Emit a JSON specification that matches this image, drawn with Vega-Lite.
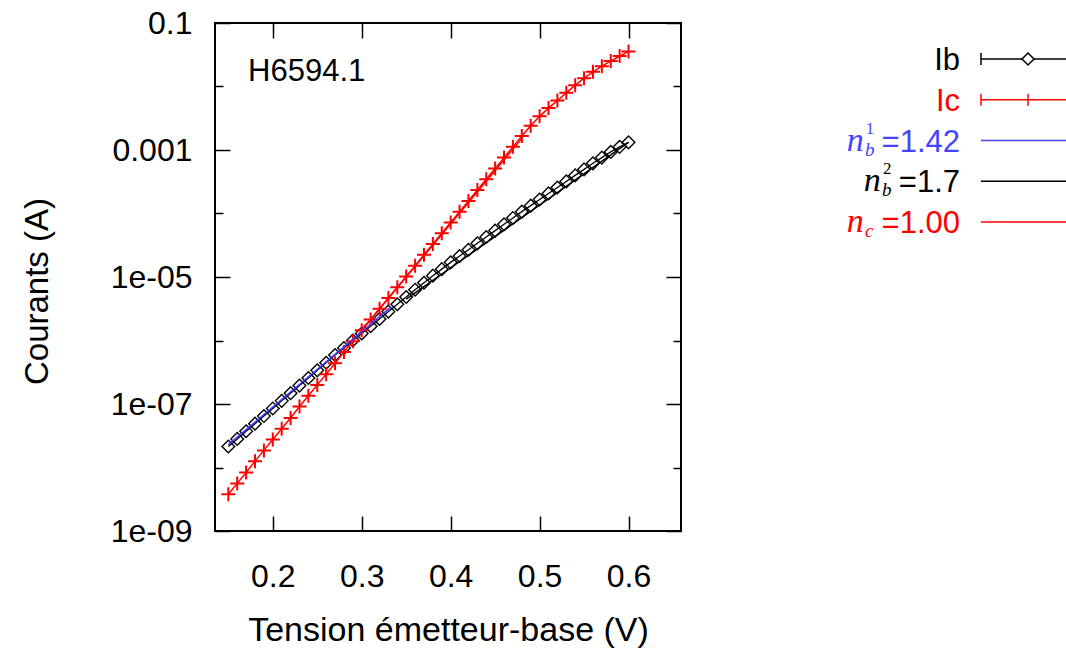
{
  "$schema": "https://vega.github.io/schema/vega-lite/v6.json",
  "padding": {"left": 19, "top": 6, "right": 0, "bottom": 0},
  "spacing": 0,
  "config": {
    "font": "Liberation Sans",
    "view": {"stroke": "black", "strokeWidth": 2},
    "axis": {"grid": false, "domain": false, "labelFontSize": 32, "titleFontSize": 33, "labelColor": "black", "titleColor": "black", "tickColor": "black", "tickWidth": 1.5, "titleFontWeight": "normal", "labelFont": "Liberation Sans", "titleFont": "Liberation Sans"}
  },
  "datasets": {
    "meas": [
      {"series": "Ib", "V": 0.15, "I": 2.14e-8}, {"series": "Ib", "V": 0.16, "I": 2.82e-8}, {"series": "Ib", "V": 0.17, "I": 3.72e-8}, {"series": "Ib", "V": 0.18, "I": 4.90e-8}, {"series": "Ib", "V": 0.19, "I": 6.46e-8},
      {"series": "Ib", "V": 0.20, "I": 8.51e-8}, {"series": "Ib", "V": 0.21, "I": 1.12e-7}, {"series": "Ib", "V": 0.22, "I": 1.48e-7}, {"series": "Ib", "V": 0.23, "I": 1.95e-7}, {"series": "Ib", "V": 0.24, "I": 2.57e-7},
      {"series": "Ib", "V": 0.25, "I": 3.39e-7}, {"series": "Ib", "V": 0.26, "I": 4.47e-7}, {"series": "Ib", "V": 0.27, "I": 5.89e-7}, {"series": "Ib", "V": 0.28, "I": 7.59e-7}, {"series": "Ib", "V": 0.29, "I": 1.00e-6},
      {"series": "Ib", "V": 0.30, "I": 1.29e-6}, {"series": "Ib", "V": 0.31, "I": 1.68e-6}, {"series": "Ib", "V": 0.32, "I": 2.19e-6}, {"series": "Ib", "V": 0.33, "I": 2.85e-6}, {"series": "Ib", "V": 0.34, "I": 3.72e-6},
      {"series": "Ib", "V": 0.35, "I": 4.84e-6}, {"series": "Ib", "V": 0.36, "I": 6.31e-6}, {"series": "Ib", "V": 0.37, "I": 8.13e-6}, {"series": "Ib", "V": 0.38, "I": 1.05e-5}, {"series": "Ib", "V": 0.39, "I": 1.33e-5},
      {"series": "Ib", "V": 0.40, "I": 1.70e-5}, {"series": "Ib", "V": 0.41, "I": 2.14e-5}, {"series": "Ib", "V": 0.42, "I": 2.69e-5}, {"series": "Ib", "V": 0.43, "I": 3.39e-5}, {"series": "Ib", "V": 0.44, "I": 4.27e-5},
      {"series": "Ib", "V": 0.45, "I": 5.37e-5}, {"series": "Ib", "V": 0.46, "I": 6.76e-5}, {"series": "Ib", "V": 0.47, "I": 8.51e-5}, {"series": "Ib", "V": 0.48, "I": 1.07e-4}, {"series": "Ib", "V": 0.49, "I": 1.33e-4},
      {"series": "Ib", "V": 0.50, "I": 1.66e-4}, {"series": "Ib", "V": 0.51, "I": 2.07e-4}, {"series": "Ib", "V": 0.52, "I": 2.57e-4}, {"series": "Ib", "V": 0.53, "I": 3.20e-4}, {"series": "Ib", "V": 0.54, "I": 3.98e-4},
      {"series": "Ib", "V": 0.55, "I": 4.95e-4}, {"series": "Ib", "V": 0.56, "I": 6.17e-4}, {"series": "Ib", "V": 0.57, "I": 7.59e-4}, {"series": "Ib", "V": 0.58, "I": 9.33e-4}, {"series": "Ib", "V": 0.59, "I": 1.12e-3},
      {"series": "Ib", "V": 0.60, "I": 1.32e-3},
      {"series": "Ic", "V": 0.15, "I": 3.80e-9}, {"series": "Ic", "V": 0.16, "I": 5.62e-9}, {"series": "Ic", "V": 0.17, "I": 8.32e-9}, {"series": "Ic", "V": 0.18, "I": 1.26e-8}, {"series": "Ic", "V": 0.19, "I": 1.86e-8},
      {"series": "Ic", "V": 0.20, "I": 2.75e-8}, {"series": "Ic", "V": 0.21, "I": 4.07e-8}, {"series": "Ic", "V": 0.22, "I": 6.03e-8}, {"series": "Ic", "V": 0.23, "I": 9.12e-8}, {"series": "Ic", "V": 0.24, "I": 1.35e-7},
      {"series": "Ic", "V": 0.25, "I": 2.00e-7}, {"series": "Ic", "V": 0.26, "I": 2.95e-7}, {"series": "Ic", "V": 0.27, "I": 4.37e-7}, {"series": "Ic", "V": 0.28, "I": 6.61e-7}, {"series": "Ic", "V": 0.29, "I": 9.77e-7},
      {"series": "Ic", "V": 0.30, "I": 1.45e-6}, {"series": "Ic", "V": 0.31, "I": 2.14e-6}, {"series": "Ic", "V": 0.32, "I": 3.16e-6}, {"series": "Ic", "V": 0.33, "I": 4.68e-6}, {"series": "Ic", "V": 0.34, "I": 6.92e-6},
      {"series": "Ic", "V": 0.35, "I": 1.02e-5}, {"series": "Ic", "V": 0.36, "I": 1.51e-5}, {"series": "Ic", "V": 0.37, "I": 2.24e-5}, {"series": "Ic", "V": 0.38, "I": 3.31e-5}, {"series": "Ic", "V": 0.39, "I": 4.90e-5},
      {"series": "Ic", "V": 0.40, "I": 7.24e-5}, {"series": "Ic", "V": 0.41, "I": 1.07e-4}, {"series": "Ic", "V": 0.42, "I": 1.58e-4}, {"series": "Ic", "V": 0.43, "I": 2.34e-4}, {"series": "Ic", "V": 0.44, "I": 3.47e-4},
      {"series": "Ic", "V": 0.45, "I": 5.13e-4}, {"series": "Ic", "V": 0.46, "I": 7.59e-4}, {"series": "Ic", "V": 0.47, "I": 1.12e-3}, {"series": "Ic", "V": 0.48, "I": 1.66e-3}, {"series": "Ic", "V": 0.49, "I": 2.40e-3},
      {"series": "Ic", "V": 0.50, "I": 3.39e-3}, {"series": "Ic", "V": 0.51, "I": 4.57e-3}, {"series": "Ic", "V": 0.52, "I": 6.03e-3}, {"series": "Ic", "V": 0.53, "I": 7.94e-3}, {"series": "Ic", "V": 0.54, "I": 1.05e-2},
      {"series": "Ic", "V": 0.55, "I": 1.35e-2}, {"series": "Ic", "V": 0.56, "I": 1.70e-2}, {"series": "Ic", "V": 0.57, "I": 2.09e-2}, {"series": "Ic", "V": 0.58, "I": 2.51e-2}, {"series": "Ic", "V": 0.59, "I": 3.02e-2},
      {"series": "Ic", "V": 0.60, "I": 3.55e-2}
    ],
    "fits": [
      {"fit": "nb1", "V": 0.15, "I": 2.29e-8}, {"fit": "nb1", "V": 0.333, "I": 3.39e-6},
      {"fit": "nb2", "V": 0.35, "I": 4.47e-6}, {"fit": "nb2", "V": 0.60, "I": 1.32e-3},
      {"fit": "nc", "V": 0.30, "I": 1.45e-6}, {"fit": "nc", "V": 0.48, "I": 1.51e-3}
    ],
    "note": [{"V": 0.1722, "I": 0.0122, "label": "H6594.1"}],
    "legend": [
      {"key": "Ib", "text": "Ib"},
      {"key": "Ic", "text": "Ic"},
      {"key": "nb1", "text": "=1.42", "sym": "n", "sub": "b", "sup": "1"},
      {"key": "nb2", "text": "=1.7", "sym": "n", "sub": "b", "sup": "2"},
      {"key": "nc", "text": "=1.00", "sym": "n", "sub": "c"}
    ]
  },
  "resolve": {"scale": {"x": "independent", "y": "independent", "color": "independent"}},
  "hconcat": [
    {
      "width": 466,
      "height": 508,
      "resolve": {"axis": {"x": "independent", "y": "independent"}},
      "encoding": {
        "x": {"field": "V", "type": "quantitative", "scale": {"domain": [0.135, 0.659], "nice": false, "zero": false}, "axis": null},
        "y": {"field": "I", "type": "quantitative", "scale": {"type": "log", "domain": [1e-9, 0.1], "nice": false}, "axis": null}
      },
      "layer": [
        {
          "data": {"name": "meas"},
          "transform": [{"filter": "datum.series == 'Ib'"}],
          "mark": {"type": "line", "color": "black", "strokeWidth": 1.3},
          "encoding": {
            "x": {"field": "V", "type": "quantitative", "scale": {"domain": [0.135, 0.659], "nice": false, "zero": false},
              "axis": {"orient": "bottom", "values": [0.2, 0.3, 0.4, 0.5, 0.6], "format": ".1f", "tickSize": -15, "labelPadding": 70, "labelBaseline": "alphabetic", "labelFlush": false, "labelOverlap": false, "title": "Tension émetteur-base (V)", "titleFontSize": 34, "titleY": 109, "titleBaseline": "alphabetic"}},
            "y": {"field": "I", "type": "quantitative", "scale": {"type": "log", "domain": [1e-9, 0.1], "nice": false},
              "axis": {"orient": "left", "values": [0.1, 0.01, 0.001, 0.0001, 0.00001, 0.000001, 1e-7, 1e-8, 1e-9],
                "labelExpr": "round(log(datum.value)/LN10) == -1 ? '0.1' : round(log(datum.value)/LN10) == -3 ? '0.001' : round(log(datum.value)/LN10) == -5 ? '1e-05' : round(log(datum.value)/LN10) == -7 ? '1e-07' : round(log(datum.value)/LN10) == -9 ? '1e-09' : ''",
                "tickSize": {"condition": {"test": "round(log(datum.value)/LN10) % 2 != 0", "value": -15}, "value": -8},
                "labelPadding": 38, "labelFlush": false, "labelOverlap": false, "labelBaseline": "middle",
                "title": "Courants (A)", "titleX": -178, "titleY": 268, "titleBaseline": "middle"}}
          }
        },
        {
          "data": {"name": "meas"},
          "transform": [{"filter": "datum.series == 'Ib'"}],
          "mark": {"type": "point", "shape": "M0,-1L1,0L0,1L-1,0Z", "size": 160, "filled": false, "color": "black", "strokeWidth": 1.4, "opacity": 1},
          "encoding": {
            "x": {"field": "V", "type": "quantitative", "scale": {"domain": [0.135, 0.659], "nice": false, "zero": false},
              "axis": {"orient": "top", "values": [0.2, 0.3, 0.4, 0.5, 0.6], "labels": false, "tickSize": -15, "title": null}},
            "y": {"field": "I", "type": "quantitative", "scale": {"type": "log", "domain": [1e-9, 0.1], "nice": false},
              "axis": {"orient": "right", "values": [0.1, 0.01, 0.001, 0.0001, 0.00001, 0.000001, 1e-7, 1e-8, 1e-9], "labels": false, "title": null,
                "tickSize": {"condition": {"test": "round(log(datum.value)/LN10) % 2 != 0", "value": -15}, "value": -8}}}
          }
        },
        {
          "data": {"name": "meas"},
          "transform": [{"filter": "datum.series == 'Ic'"}],
          "mark": {"type": "line", "color": "#ff0000", "strokeWidth": 1.5}
        },
        {
          "data": {"name": "meas"},
          "transform": [{"filter": "datum.series == 'Ic'"}],
          "mark": {"type": "point", "shape": "M-1,0H1M0,-1V1", "size": 196, "filled": false, "color": "#ff0000", "strokeWidth": 2, "opacity": 1}
        },
        {
          "data": {"name": "fits"},
          "mark": {"type": "line", "strokeWidth": 1.5},
          "encoding": {
            "color": {"field": "fit", "type": "nominal", "scale": {"domain": ["nb1", "nb2", "nc"], "range": ["#3a3aff", "black", "#ff0000"]}, "legend": null}
          }
        },
        {
          "data": {"name": "note"},
          "mark": {"type": "text", "align": "left", "baseline": "alphabetic", "fontSize": 31, "font": "Liberation Sans", "color": "black"},
          "encoding": {"text": {"field": "label"}}
        }
      ]
    },
    {
      "width": 387,
      "height": 235,
      "view": {"stroke": null},
      "data": {"name": "legend"},
      "encoding": {
        "y": {"field": "key", "type": "nominal", "scale": {"type": "point", "domain": ["Ib", "Ic", "nb1", "nb2", "nc"], "padding": 0.883}, "axis": null},
        "color": {"field": "key", "type": "nominal", "scale": {"domain": ["Ib", "Ic", "nb1", "nb2", "nc"], "range": ["black", "#ff0000", "#4444ff", "black", "#ff0000"]}, "legend": null}
      },
      "layer": [
        {
          "mark": {"type": "rule", "strokeWidth": 1.5},
          "encoding": {
            "x": {"datum": 0.77, "type": "quantitative", "scale": {"domain": [0, 1], "nice": false, "zero": false}, "axis": null},
            "x2": {"datum": 1}
          }
        },
        {
          "transform": [{"filter": "datum.key == 'Ib' || datum.key == 'Ic'"}],
          "mark": {"type": "point", "shape": "M0,-1V1", "size": 144, "filled": false, "strokeWidth": 1.5, "opacity": 1},
          "encoding": {"x": {"datum": 0.77, "type": "quantitative", "scale": {"domain": [0, 1], "nice": false, "zero": false}, "axis": null}}
        },
        {
          "transform": [{"filter": "datum.key == 'Ib'"}],
          "mark": {"type": "point", "shape": "M0,-1L1,0L0,1L-1,0Z", "size": 144, "filled": true, "fill": "white", "strokeWidth": 1.5, "opacity": 1},
          "encoding": {
            "x": {"datum": 0.8915, "type": "quantitative", "scale": {"domain": [0, 1], "nice": false, "zero": false}, "axis": null},
            "stroke": {"field": "key", "type": "nominal", "scale": {"domain": ["Ib"], "range": ["black"]}, "legend": null}
          }
        },
        {
          "transform": [{"filter": "datum.key == 'Ic'"}],
          "mark": {"type": "point", "shape": "M0,-1V1", "size": 144, "filled": false, "strokeWidth": 1.5, "opacity": 1},
          "encoding": {"x": {"datum": 0.8915, "type": "quantitative", "scale": {"domain": [0, 1], "nice": false, "zero": false}, "axis": null}}
        },
        {
          "mark": {"type": "text", "align": "right", "baseline": "alphabetic", "dy": 11, "fontSize": 31, "font": "Liberation Sans"},
          "encoding": {
            "x": {"datum": 0.7158, "type": "quantitative", "scale": {"domain": [0, 1], "nice": false, "zero": false}, "axis": null},
            "text": {"field": "text"}
          }
        },
        {
          "transform": [{"filter": "datum.key == 'nb1' || datum.key == 'nc'"}],
          "mark": {"type": "text", "align": "left", "baseline": "alphabetic", "dy": 10, "fontSize": 34, "font": "Liberation Serif", "fontStyle": "italic"},
          "encoding": {
            "x": {"datum": 0.423, "type": "quantitative", "scale": {"domain": [0, 1], "nice": false, "zero": false}, "axis": null},
            "text": {"field": "sym"}
          }
        },
        {
          "transform": [{"filter": "datum.key == 'nb2'"}],
          "mark": {"type": "text", "align": "left", "baseline": "alphabetic", "dy": 10, "fontSize": 34, "font": "Liberation Serif", "fontStyle": "italic"},
          "encoding": {
            "x": {"datum": 0.467, "type": "quantitative", "scale": {"domain": [0, 1], "nice": false, "zero": false}, "axis": null},
            "text": {"field": "sym"}
          }
        },
        {
          "transform": [{"filter": "datum.key == 'nb1' || datum.key == 'nc'"}],
          "mark": {"type": "text", "align": "left", "baseline": "alphabetic", "dy": 15, "fontSize": 19, "font": "Liberation Serif", "fontStyle": "italic"},
          "encoding": {
            "x": {"datum": 0.4705, "type": "quantitative", "scale": {"domain": [0, 1], "nice": false, "zero": false}, "axis": null},
            "text": {"field": "sub"}
          }
        },
        {
          "transform": [{"filter": "datum.key == 'nb2'"}],
          "mark": {"type": "text", "align": "left", "baseline": "alphabetic", "dy": 15, "fontSize": 19, "font": "Liberation Serif", "fontStyle": "italic"},
          "encoding": {
            "x": {"datum": 0.5145, "type": "quantitative", "scale": {"domain": [0, 1], "nice": false, "zero": false}, "axis": null},
            "text": {"field": "sub"}
          }
        },
        {
          "transform": [{"filter": "datum.key == 'nb1'"}],
          "mark": {"type": "text", "align": "left", "baseline": "alphabetic", "dy": -7, "fontSize": 17, "font": "Liberation Serif"},
          "encoding": {
            "x": {"datum": 0.4725, "type": "quantitative", "scale": {"domain": [0, 1], "nice": false, "zero": false}, "axis": null},
            "text": {"field": "sup"}
          }
        },
        {
          "transform": [{"filter": "datum.key == 'nb2'"}],
          "mark": {"type": "text", "align": "left", "baseline": "alphabetic", "dy": -7, "fontSize": 17, "font": "Liberation Serif"},
          "encoding": {
            "x": {"datum": 0.5165, "type": "quantitative", "scale": {"domain": [0, 1], "nice": false, "zero": false}, "axis": null},
            "text": {"field": "sup"}
          }
        }
      ]
    }
  ]
}
